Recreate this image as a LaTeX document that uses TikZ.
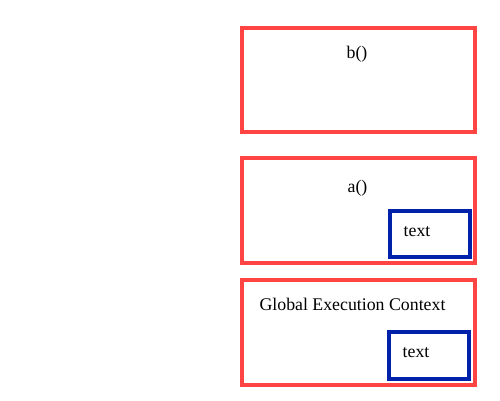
\documentclass[tikz,border=0pt]{standalone}
\usepackage{fontspec}
\setmainfont{Liberation Serif}
\definecolor{ctxred}{HTML}{FF4444}
\definecolor{varblue}{HTML}{0022AA}
\tikzset{
  ctx/.style={draw=ctxred, line width=4pt},
  var/.style={draw=varblue, line width=4pt},
  lbl/.style={font=\fontsize{17.8}{21}\selectfont, inner sep=0pt}
}
\begin{document}
\begin{tikzpicture}[x=1pt,y=-1pt]
\useasboundingbox (0,0) rectangle (500,400);
% execution context frames
\draw[ctx] (242,28.3) rectangle (474.6,132.3);
\draw[ctx] (242,158) rectangle (474.6,263);
\draw[ctx] (242,280) rectangle (474.6,384.5);
% variable boxes
\draw[var] (389.5,211) rectangle (470,257);
\draw[var] (388.5,332) rectangle (468.5,378.5);
% labels
\node[lbl] (b) at (357,54) {b()};
\node[lbl] (a) at (357.5,188) {a()};
\node[lbl] (ta) at (417,231.5) {text};
\node[lbl] (g) at (352.5,304.5) {Global Execution Context};
\node[lbl] (tg) at (416,352.5) {text};
\end{tikzpicture}
\end{document}
